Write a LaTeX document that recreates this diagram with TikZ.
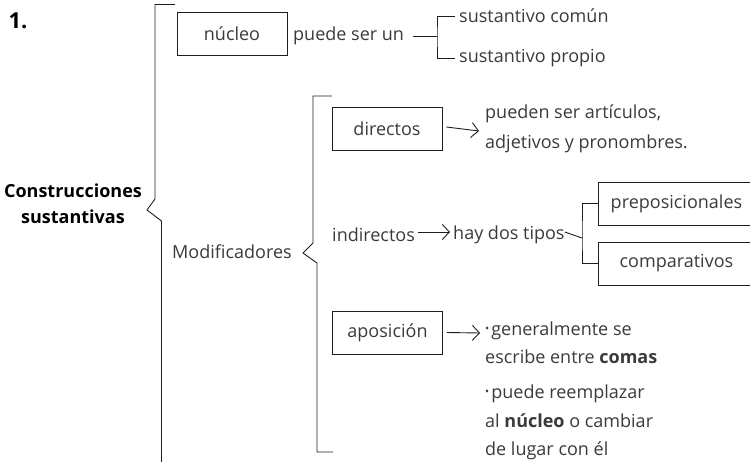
\documentclass[tikz,border=0pt]{standalone}
\usepackage{fontspec}
\setmainfont{Open Sans}
\usetikzlibrary{arrows.meta}
\definecolor{textgray}{HTML}{3A3A3A}
\definecolor{linecol}{HTML}{1E1E1E}
\newcommand{\smallbul}{{\fontsize{11}{11}\selectfont\raisebox{2.2pt}{•}}\hspace{2pt}}
\begin{document}
\begin{tikzpicture}[x=1pt,y=-1pt,
  txt/.style={text=textgray, font=\fontsize{18}{28}\selectfont, inner sep=0pt},
  boxnode/.style={draw=linecol, line width=0.9pt, minimum width=110pt, minimum height=43pt, inner sep=0pt, text=textgray, font=\fontsize{18}{22}\selectfont},
  ln/.style={draw=linecol, line width=0.9pt},
  arr/.style={ln, -{Straight Barb[length=7pt,width=15pt,line width=0.9pt]}}]
\useasboundingbox (0,0) rectangle (750,461);

% heading and title
\node[inner sep=0pt, font=\fontsize{22}{24}\selectfont\bfseries] (num) at (18,21) {1.};
\node[inner sep=0pt, align=center, font=\fontsize{18}{26}\selectfont\bfseries] (title) at (73,204) {Construcciones\\sustantivas};

% main bracket
\coordinate (mbtop) at (175,4.5);
\coordinate (mbtip) at (147,210);
\draw[ln] (mbtop) -- (155,4.5) -- (155,199) -- (mbtip) -- (161.5,221) -- (161.5,465);

% nucleo branch
\node[boxnode] (nucleo) at (232,33.5) {núcleo};
\node[txt, anchor=west] (puede) at (293,36) {puede ser un};
\node[txt, anchor=west] (sc) at (459,16) {sustantivo común};
\node[txt, anchor=west] (sp) at (459,58) {sustantivo propio};
\coordinate (b1) at (437,36);
\draw[ln] ([xshift=9pt]puede.east) -- (b1);
\draw[ln] ([xshift=-4pt]sc.west) -| (b1) |- ([xshift=-4pt]sp.west);

% modificadores
\node[txt] (mod) at (232,252) {Modificadores};
\coordinate (mdtop) at (332,96);
\coordinate (mdtip) at (303,253);
\coordinate (mdbot) at (333,452);
\draw[ln] (mdtop) -- (313,96) -- (313,243) -- (mdtip) -- (317,263) -- (317,452) -- (mdbot);

% directos
\node[boxnode] (dir) at (387,129) {directos};
\node[txt, anchor=base west] (pueden1) at (485,118) {pueden ser artículos,};
\node[txt, anchor=base west] (pueden2) at (485,148) {adjetivos y pronombres.};
\coordinate (dirend) at (479,131);
\draw[arr] ([xshift=4pt,yshift=2pt]dir.east) -- (dirend);

% indirectos
\node[txt, anchor=west] (ind) at (332,235) {indirectos};
\node[txt, anchor=west] (hay) at (453,235) {hay dos tipos};
\draw[arr] ([xshift=3pt,yshift=3pt]ind.east) -- ([xshift=-3pt,yshift=3pt]hay.west);
\node[boxnode, minimum width=156pt, anchor=west] (prep) at (598,203.5) {preposicionales};
\node[boxnode, minimum width=156pt, anchor=west] (comp) at (598,263.5) {comparativos};
\coordinate (b2) at (582,238);
\draw[ln] ([yshift=3pt]hay.east) -- (b2);
\draw[ln] (prep.west) -| (b2) |- (comp.west);

% aposicion
\node[boxnode] (apos) at (387.5,332.5) {aposición};
\node[txt, anchor=base west] (ap1) at (485,335) {\smallbul generalmente se};
\node[txt, anchor=base west] (ap2) at (485,363) {escribe entre \textbf{comas}};
\node[txt, anchor=base west] (ap3) at (485,398) {\smallbul puede reemplazar};
\node[txt, anchor=base west] (ap4) at (485,427) {al \textbf{núcleo} o cambiar};
\node[txt, anchor=base west] (ap5) at (485,455) {de lugar con él};
\coordinate (apend) at (480,333);
\draw[arr] ([xshift=4pt]apos.east) -- (apend);
\end{tikzpicture}
\end{document}
